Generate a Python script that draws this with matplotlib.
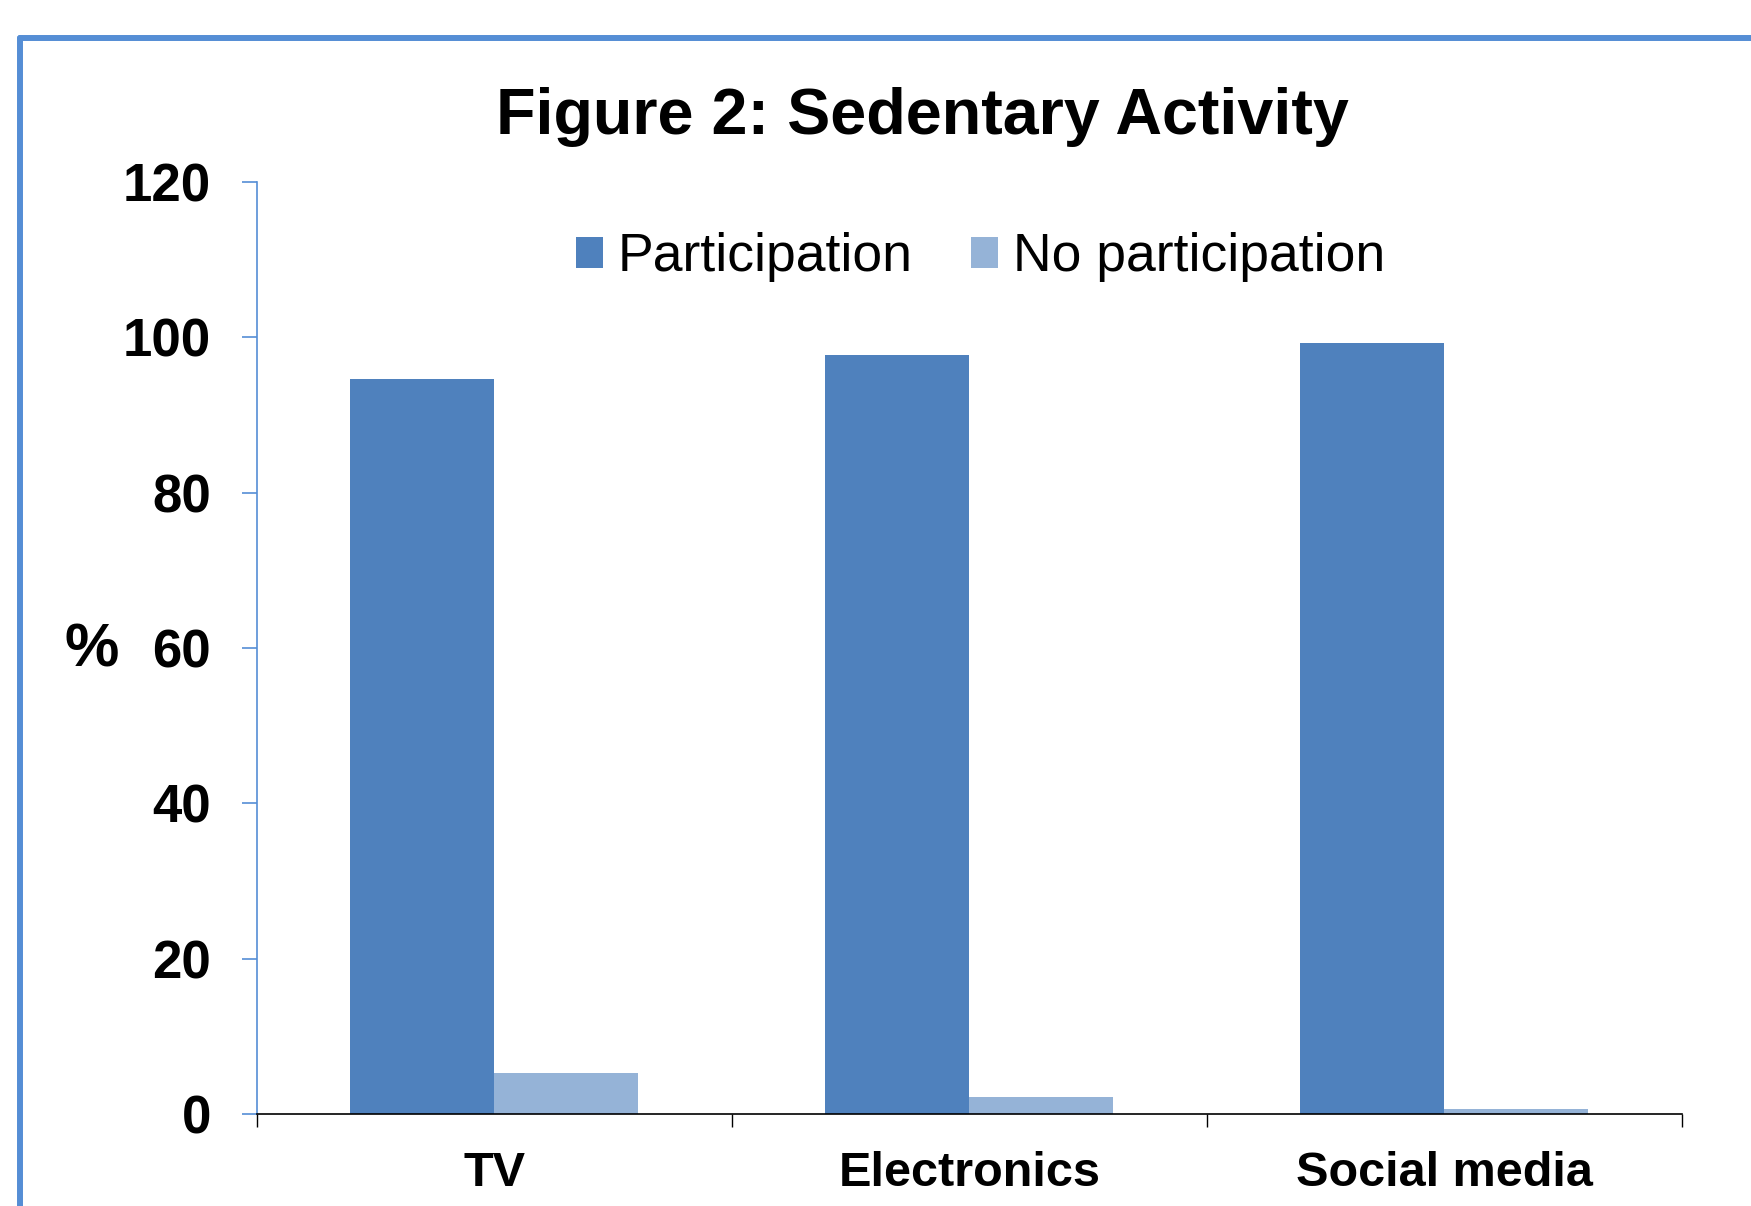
import numpy as np
import matplotlib.pyplot as plt
from matplotlib.lines import Line2D

plt.rcParams['font.family'] = ['Liberation Sans', 'DejaVu Sans']

categories = ['TV', 'Electronics', 'Social media']
participation = [94.6, 97.7, 99.3]
no_participation = [5.3, 2.2, 0.7]
series_names = ['Participation', 'No participation']
y_ticks = [0, 20, 40, 60, 80, 100, 120]

dark_blue = '#4F81BD'
light_blue = '#95B3D7'
frame_blue = '#558ED5'

fig = plt.figure(figsize=(17.51, 12.06), dpi=100)
ax = fig.add_axes([0.1467, 0.0760, 0.8138, 0.7733])

x = np.arange(len(categories))
width = 0.303
ax.bar(x - width / 2, participation, width, color=dark_blue, label=series_names[0])
ax.bar(x + width / 2, no_participation, width, color=light_blue, label=series_names[1])

ax.set_xlim(-0.5, len(categories) - 0.5)
ax.set_ylim(0, 120)
ax.set_yticks(y_ticks)
ax.set_yticklabels([str(t) for t in y_ticks], fontsize=38, fontweight='bold')

# category boundaries get the tick marks, centres get the labels
ax.set_xticks(np.arange(len(categories) + 1) - 0.5)
ax.set_xticklabels([])
ax.set_xticks(x, minor=True)
ax.set_xticklabels(categories, minor=True, fontsize=35, fontweight='bold')
ax.tick_params(axis='x', which='major', length=9.6, width=1, color='black', direction='out')
ax.tick_params(axis='x', which='minor', length=0, pad=26.5)
ax.tick_params(axis='y', length=11, width=1.2, color=frame_blue, pad=22)

ax.spines['top'].set_visible(False)
ax.spines['right'].set_visible(False)
ax.spines['left'].set_color(frame_blue)
ax.spines['left'].set_linewidth(1.2)
ax.spines['bottom'].set_color('black')
ax.spines['bottom'].set_linewidth(1.2)

fig.text(0.0523, 0.4605, '%', fontsize=44, fontweight='bold', ha='center', va='center')
fig.text(0.5268, 0.8889, 'Figure 2: Sedentary Activity', fontsize=46.5,
         fontweight='bold', ha='center', va='baseline')

ax.legend(loc='center', bbox_to_anchor=(0.5600, 0.7865), bbox_transform=fig.transFigure,
          ncol=2, frameon=False, fontsize=38.5, handlelength=0.5, handleheight=0.5,
          handletextpad=0.27, columnspacing=1.1, borderpad=0, borderaxespad=0)

# outer chart frame, cropped at the right and bottom
fx = 19.5 / 1751
fy = 1 - 38 / 1206
fig.add_artist(Line2D([fx, 1.01], [fy, fy], color=frame_blue, lw=4.3,
                      solid_capstyle='round', transform=fig.transFigure))
fig.add_artist(Line2D([fx, fx], [fy, -0.01], color=frame_blue, lw=4.3,
                      solid_capstyle='round', transform=fig.transFigure))

fig.savefig('out.png', dpi=100)
